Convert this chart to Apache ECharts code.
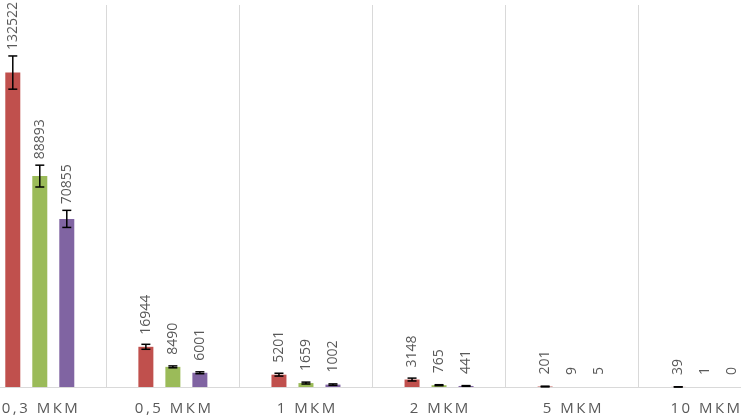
<!DOCTYPE html>
<html>
<head>
<meta charset="utf-8">
<script src="https://cdn.jsdelivr.net/npm/echarts@6/dist/echarts.min.js"></script>
<style>
  html, body { margin: 0; padding: 0; background: #fff; }
  #chart { width: 741px; height: 417px; }
</style>
</head>
<body>
<div id="chart"></div>
<script>
  // категории (размер частиц)
  var categories = ['0,3 МКМ', '0,5 МКМ', '1 МКМ', '2 МКМ', '5 МКМ', '10 МКМ']
  // значения по сериям
  var redValues = [132522, 16944, 5201, 3148, 201, 39]
  var greenValues = [88893, 8490, 1659, 765, 9, 1]
  var purpleValues = [70855, 6001, 1002, 441, 5, 0]
  // погрешности
  var redErrors = [7000, 1050, 600, 600, 150, 40]
  var greenErrors = [4600, 400, 400, 200, 0, 0]
  var purpleErrors = [3600, 400, 300, 150, 0, 0]

  var colors = ['#C0504D', '#9BBB59', '#8064A2']
  var yMax = 161000
  var gridTop = 5
  var gridBottom = 30
  var gridHeight = 417 - gridTop - gridBottom
  var pxPerUnit = gridHeight / yMax
  var barWidth = 15
  var barStep = 27

  var chart = echarts.init(document.getElementById('chart'))

  function spaced(s) {
    return s.split('').join('\u2009')
  }

  function barSeries(name, values, errors, color) {
    return {
      name: name,
      type: 'bar',
      barWidth: barWidth,
      barGap: '80%',
      itemStyle: { color: color },
      data: values.map(function (v, i) {
        return {
          value: v,
          label: { distance: Math.max(12, errors[i] * pxPerUnit + 6) }
        }
      }),
      label: {
        show: true,
        position: 'top',
        rotate: 90,
        align: 'left',
        verticalAlign: 'middle',
        color: '#595959',
        fontFamily: 'Open Sans',
        fontSize: 14
      },
      z: 2
    }
  }

  function errorSeries(values, errors, offset) {
    return {
      type: 'custom',
      silent: true,
      z: 5,
      data: values.map(function (v, i) { return [i, v, errors[i]] }),
      renderItem: function (params, api) {
        var i = api.value(0)
        var v = api.value(1)
        var e = api.value(2)
        if (!e) return null
        var hi = api.coord([i, v + e])
        var lo = api.coord([i, Math.max(v - e, 0)])
        var x = hi[0] + offset
        var cap = 4.5
        var style = { stroke: '#000', lineWidth: 1.5 }
        return {
          type: 'group',
          children: [
            { type: 'line', shape: { x1: x, y1: hi[1], x2: x, y2: lo[1] }, style: style },
            { type: 'line', shape: { x1: x - cap, y1: hi[1], x2: x + cap, y2: hi[1] }, style: style },
            { type: 'line', shape: { x1: x - cap, y1: lo[1], x2: x + cap, y2: lo[1] }, style: style }
          ]
        }
      }
    }
  }

  chart.setOption({
    animation: false,
    grid: {
      left: -26.75, width: 798.5, top: gridTop, bottom: gridBottom,
      containLabel: false, outerBoundsMode: 'none'
    },
    xAxis: {
      type: 'category',
      data: categories,
      axisLine: { lineStyle: { color: '#d9d9d9', width: 1 } },
      axisTick: { show: false },
      splitLine: { show: true, interval: 0, lineStyle: { color: '#d9d9d9', width: 1 } },
      axisLabel: {
        interval: 0,
        margin: 14,
        color: '#595959',
        fontFamily: 'Open Sans',
        fontSize: 15,
        formatter: function (v) { return spaced(v) }
      }
    },
    yAxis: {
      type: 'value',
      min: 0,
      max: yMax,
      show: false,
      splitLine: { show: false }
    },
    series: [
      barSeries('red', redValues, redErrors, colors[0]),
      barSeries('green', greenValues, greenErrors, colors[1]),
      barSeries('purple', purpleValues, purpleErrors, colors[2]),
      errorSeries(redValues, redErrors, -barStep),
      errorSeries(greenValues, greenErrors, 0),
      errorSeries(purpleValues, purpleErrors, barStep)
    ]
  })
</script>
</body>
</html>
